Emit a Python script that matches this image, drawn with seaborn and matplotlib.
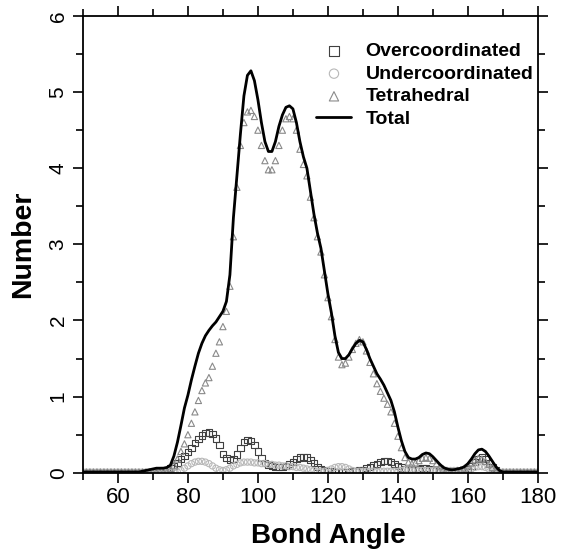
import numpy as np
import pandas as pd
import matplotlib
matplotlib.use("Agg")
import matplotlib.pyplot as plt
from matplotlib.ticker import MultipleLocator
import seaborn as sns

# bond angle bins (degrees)
angle = list(range(50, 181))

total = [0.01] * 17 + [
    0.02, 0.03, 0.04, 0.05, 0.06, 0.06, 0.06, 0.07,            # 67-74
    0.10, 0.22, 0.40, 0.62, 0.85, 1.02, 1.22, 1.40, 1.57, 1.70,  # 75-84
    1.80, 1.87, 1.93, 1.98, 2.05, 2.12, 2.25, 2.60, 3.35, 3.90,  # 85-94
    4.45, 4.95, 5.22, 5.28, 5.15, 4.90, 4.60, 4.35, 4.22, 4.22,  # 95-104
    4.35, 4.55, 4.70, 4.80, 4.82, 4.78, 4.60, 4.35, 4.15, 4.00,  # 105-114
    3.70, 3.40, 3.15, 2.95, 2.65, 2.35, 2.10, 1.80, 1.58, 1.50,  # 115-124
    1.50, 1.55, 1.63, 1.70, 1.74, 1.72, 1.62, 1.50, 1.40, 1.30,  # 125-134
    1.23, 1.15, 1.05, 0.95, 0.80, 0.60, 0.42, 0.28, 0.20, 0.18,  # 135-144
    0.18, 0.20, 0.24, 0.26, 0.25, 0.21, 0.16, 0.11, 0.07, 0.05,  # 145-154
    0.04, 0.04, 0.05, 0.06, 0.08, 0.12, 0.18, 0.25, 0.30, 0.31,  # 155-164
    0.28, 0.22, 0.15, 0.08, 0.03, 0.01,                          # 165-170
] + [0.01] * 10

tetrahedral = [0.01] * 25 + [
    0.05, 0.10, 0.18, 0.28, 0.38, 0.50, 0.65, 0.80, 0.95, 1.08,  # 75-84
    1.18, 1.25, 1.40, 1.57, 1.72, 1.92, 2.12, 2.45, 3.10, 3.75,  # 85-94
    4.30, 4.60, 4.74, 4.76, 4.68, 4.50, 4.30, 4.10, 3.98, 3.98,  # 95-104
    4.10, 4.30, 4.50, 4.65, 4.68, 4.65, 4.50, 4.25, 4.05, 3.90,  # 105-114
    3.62, 3.35, 3.10, 2.90, 2.60, 2.30, 2.05, 1.75, 1.52, 1.42,  # 115-124
    1.44, 1.52, 1.62, 1.70, 1.75, 1.72, 1.60, 1.45, 1.30, 1.17,  # 125-134
    1.07, 0.98, 0.90, 0.80, 0.65, 0.48, 0.33, 0.20, 0.14, 0.12,  # 135-144
    0.13, 0.16, 0.19, 0.20, 0.19, 0.16, 0.12, 0.08, 0.05, 0.03,  # 145-154
    0.02, 0.02, 0.03, 0.04, 0.06, 0.09, 0.13, 0.17, 0.19, 0.18,  # 155-164
    0.15, 0.11, 0.07, 0.03, 0.01, 0.01,                          # 165-170
] + [0.01] * 10

overcoordinated = [0.005] * 21 + [
    0.01, 0.02, 0.03, 0.04,                                      # 71-74
    0.06, 0.09, 0.13, 0.18, 0.22, 0.27, 0.33, 0.39, 0.44, 0.49,  # 75-84
    0.52, 0.53, 0.51, 0.45, 0.36, 0.25, 0.19, 0.17, 0.18, 0.24,  # 85-94
    0.33, 0.40, 0.43, 0.42, 0.36, 0.28, 0.19, 0.13, 0.10, 0.09,  # 95-104
    0.08, 0.08, 0.08, 0.09, 0.11, 0.14, 0.18, 0.20, 0.21, 0.20,  # 105-114
    0.17, 0.13, 0.08, 0.05, 0.03, 0.02, 0.02, 0.01, 0.01, 0.01,  # 115-124
    0.01, 0.01, 0.02, 0.02, 0.03, 0.04, 0.06, 0.08, 0.10, 0.12,  # 125-134
    0.14, 0.15, 0.15, 0.14, 0.12, 0.09, 0.07, 0.05, 0.04, 0.04,  # 135-144
    0.04, 0.05, 0.06, 0.06, 0.05, 0.04, 0.03, 0.02, 0.01, 0.01,  # 145-154
    0.01, 0.01, 0.01, 0.02, 0.03, 0.05, 0.09, 0.14, 0.18, 0.20,  # 155-164
    0.18, 0.13, 0.07, 0.03, 0.01, 0.005,                         # 165-170
] + [0.005] * 10

undercoordinated = [0.005] * 27 + [
    0.01, 0.03, 0.06, 0.09, 0.12, 0.14, 0.15, 0.15,              # 77-84
    0.14, 0.12, 0.09, 0.06, 0.04, 0.03, 0.04, 0.06, 0.09, 0.11,  # 85-94
    0.13, 0.14, 0.14, 0.14, 0.13, 0.13, 0.12, 0.12, 0.11, 0.11,  # 95-104
    0.10, 0.10, 0.09, 0.09, 0.08, 0.08, 0.07, 0.07, 0.06, 0.05,  # 105-114
    0.04, 0.03, 0.02, 0.02, 0.02, 0.03, 0.05, 0.07, 0.08, 0.08,  # 115-124
    0.07, 0.05, 0.03, 0.02, 0.02, 0.02, 0.02, 0.02, 0.02, 0.02,  # 125-134
    0.02, 0.02, 0.02, 0.02, 0.02, 0.02, 0.03, 0.04, 0.04, 0.04,  # 135-144
    0.04, 0.03, 0.03, 0.03, 0.03, 0.03, 0.03, 0.03, 0.03, 0.03,  # 145-154
    0.03, 0.03, 0.03, 0.03, 0.03, 0.03, 0.05, 0.07, 0.08, 0.08,  # 155-164
    0.07, 0.05, 0.03, 0.02, 0.005, 0.005,                        # 165-170
] + [0.005] * 10

df = pd.DataFrame({
    "angle": angle,
    "Overcoordinated": overcoordinated,
    "Undercoordinated": undercoordinated,
    "Tetrahedral": tetrahedral,
    "Total": total,
})

sns.set_style("ticks")
plt.rcParams["font.family"] = ["Liberation Sans", "DejaVu Sans"]
plt.rcParams.update({"text.color": "black", "axes.labelcolor": "black",
                     "xtick.color": "black", "ytick.color": "black"})

fig = plt.figure(figsize=(5.68, 5.51), dpi=100)
ax = fig.add_axes([0.146, 0.142, 0.801, 0.829])

# open markers for the three components
styles = [("Overcoordinated", "s", "#404040"),
          ("Undercoordinated", "o", "#b8b8b8"),
          ("Tetrahedral", "^", "#8a8a8a")]
for name, mk, col in styles:
    sns.scatterplot(data=df, x="angle", y=name, marker=mk, s=20,
                    facecolor="none", edgecolor=col, linewidth=0.8,
                    label=name, ax=ax, zorder=2)

sns.lineplot(data=df, x="angle", y="Total", color="black", linewidth=2,
             label="Total", ax=ax, zorder=3)

ax.set_xlim(50, 180)
ax.set_ylim(0, 6)
ax.xaxis.set_major_locator(MultipleLocator(20))
ax.xaxis.set_minor_locator(MultipleLocator(10))
ax.yaxis.set_major_locator(MultipleLocator(1))
ax.yaxis.set_minor_locator(MultipleLocator(0.5))
ax.tick_params(which="both", direction="out", top=True, right=True,
               labeltop=False, labelright=False, width=1.2, color="black")
ax.tick_params(which="major", length=7, labelsize=16)
ax.tick_params(which="minor", length=5)
ax.tick_params(axis="y", labelsize=15, pad=4)
for lbl in ax.get_yticklabels():
    lbl.set_rotation(90)
    lbl.set_va("center")
for sp in ax.spines.values():
    sp.set_linewidth(1.3)
    sp.set_color("black")

ax.set_xlabel("Bond Angle", fontsize=20, fontweight="bold")
ax.xaxis.set_label_coords(0.54, -0.109)
ax.set_ylabel("Number", fontsize=20.5, fontweight="bold")
ax.yaxis.set_label_coords(-0.103, 0.5)

leg = ax.legend(loc="upper right", bbox_to_anchor=(0.99, 0.942), frameon=False,
                prop={"weight": "bold", "size": 14}, handlelength=1.8,
                handletextpad=0.72, labelspacing=0.26, borderpad=0,
                borderaxespad=0, markerscale=1.5)

fig.savefig("out.png", dpi=100)
